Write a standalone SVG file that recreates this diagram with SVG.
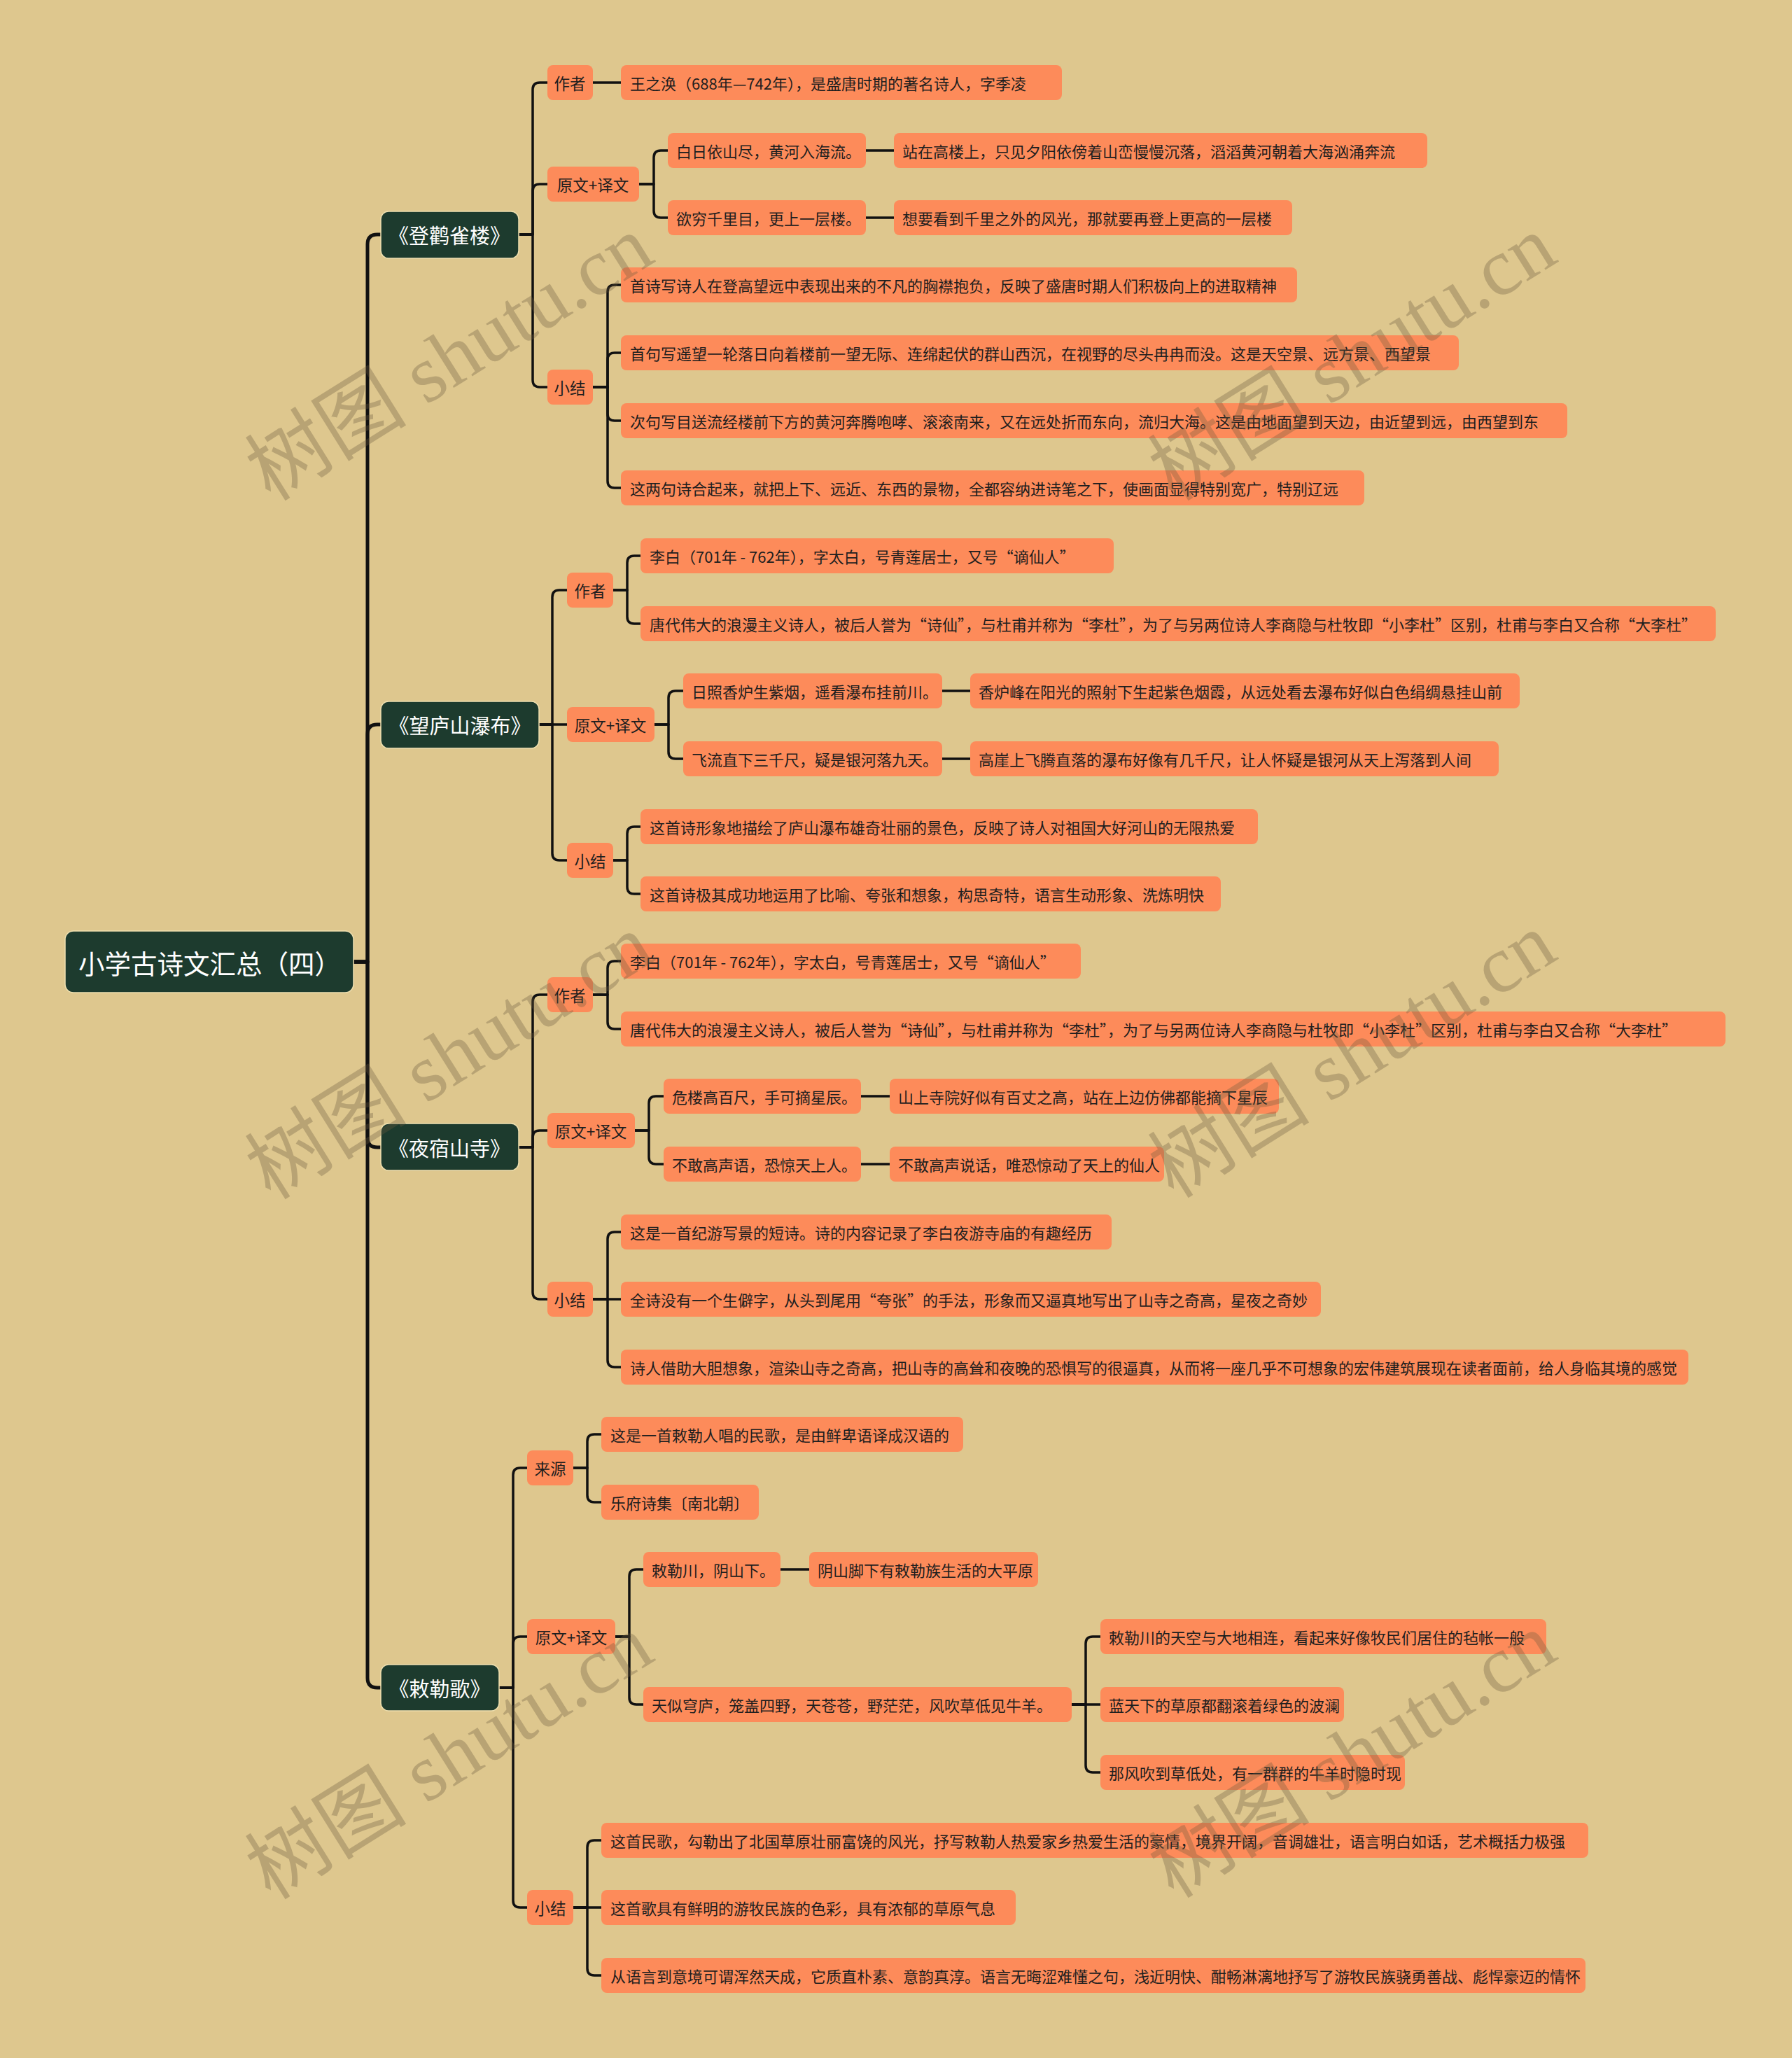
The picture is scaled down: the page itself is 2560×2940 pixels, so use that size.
<svg xmlns="http://www.w3.org/2000/svg" width="2560" height="2940" viewBox="0 0 2560 2940">
<style>
.bg{fill:#dec78e}
.m{fill:#1d3b2e;stroke:#efe0b0;stroke-width:1.5}
.n{fill:#fd8b5a}
.mt{font-family:"Noto Sans CJK SC",sans-serif;font-size:29px;fill:#ffffff;text-anchor:middle;dominant-baseline:central}
.rt{font-family:"Noto Sans CJK SC",sans-serif;font-size:37.5px;fill:#ffffff;dominant-baseline:central}
.t{font-family:"Noto Sans CJK SC",sans-serif;font-size:22px;fill:#1e1e1e;dominant-baseline:central}
.lt{font-family:"Noto Sans CJK SC",sans-serif;font-size:22.5px;fill:#1e1e1e;text-anchor:middle;dominant-baseline:central}
.c{fill:none;stroke:#111111;stroke-width:3.5;stroke-linecap:round;stroke-linejoin:round}
.ct{fill:none;stroke:#111111;stroke-width:5;stroke-linecap:round;stroke-linejoin:round}
.wm{font-family:"Liberation Serif","Noto Sans CJK SC",serif;font-size:116px;fill:#6b5b3e;opacity:0.32;text-anchor:middle;dominant-baseline:central}
</style>
<rect class="bg" x="0" y="0" width="2560" height="2940"/>

<g id="connectors">
<path class="ct" d="M505 1374 H525 V349 Q525 335 539 335 H544"/>
<path class="ct" d="M505 1374 H525 V1049 Q525 1035 539 1035 H544"/>
<path class="ct" d="M505 1374 H525 V1625 Q525 1639 539 1639 H544"/>
<path class="ct" d="M505 1374 H525 V2397 Q525 2411 539 2411 H544"/>

<path class="c" d="M741 335 H761 V128 Q761 118 771 118 H782"/>
<path class="c" d="M741 335 H761 V273 Q761 263 771 263 H782"/>
<path class="c" d="M741 335 H761 V543 Q761 553 771 553 H782"/>
<path class="c" d="M847 118 H887"/>
<path class="c" d="M913 263 H934 V225 Q934 215 944 215 H954"/>
<path class="c" d="M913 263 H934 V301 Q934 311 944 311 H954"/>
<path class="c" d="M1237 215 H1277"/>
<path class="c" d="M1237 311 H1277"/>
<path class="c" d="M847 553 H868 V417 Q868 407 878 407 H887"/>
<path class="c" d="M847 553 H868 V514 Q868 504 878 504 H887"/>
<path class="c" d="M847 553 H868 V591 Q868 601 878 601 H887"/>
<path class="c" d="M847 553 H868 V687 Q868 697 878 697 H887"/>

<path class="c" d="M770 1035 H789 V853 Q789 843 799 843 H810"/>
<path class="c" d="M770 1035 H810"/>
<path class="c" d="M770 1035 H789 V1219 Q789 1229 799 1229 H810"/>
<path class="c" d="M876 843 H896 V804 Q896 794 906 794 H915"/>
<path class="c" d="M876 843 H896 V881 Q896 891 906 891 H915"/>
<path class="c" d="M935 1035 H955 V997 Q955 987 965 987 H976"/>
<path class="c" d="M935 1035 H955 V1074 Q955 1084 965 1084 H976"/>
<path class="c" d="M1346 987 H1386"/>
<path class="c" d="M1346 1084 H1386"/>
<path class="c" d="M876 1229 H896 V1191 Q896 1181 906 1181 H915"/>
<path class="c" d="M876 1229 H896 V1267 Q896 1277 906 1277 H915"/>

<path class="c" d="M741 1639 H761 V1431 Q761 1421 771 1421 H782"/>
<path class="c" d="M741 1639 H761 V1625 Q761 1615 771 1615 H782"/>
<path class="c" d="M741 1639 H761 V1846 Q761 1856 771 1856 H782"/>
<path class="c" d="M847 1421 H868 V1383 Q868 1373 878 1373 H887"/>
<path class="c" d="M847 1421 H868 V1460 Q868 1470 878 1470 H887"/>
<path class="c" d="M907 1615 H927 V1576 Q927 1566 937 1566 H948"/>
<path class="c" d="M907 1615 H927 V1653 Q927 1663 937 1663 H948"/>
<path class="c" d="M1230 1566 H1271"/>
<path class="c" d="M1230 1663 H1271"/>
<path class="c" d="M847 1856 H868 V1770 Q868 1760 878 1760 H887"/>
<path class="c" d="M847 1856 H887"/>
<path class="c" d="M847 1856 H868 V1943 Q868 1953 878 1953 H887"/>

<path class="c" d="M713 2411 H733 V2107 Q733 2097 743 2097 H753"/>
<path class="c" d="M713 2411 H733 V2348 Q733 2338 743 2338 H753"/>
<path class="c" d="M713 2411 H733 V2715 Q733 2725 743 2725 H753"/>
<path class="c" d="M819 2097 H839 V2059 Q839 2049 849 2049 H859"/>
<path class="c" d="M819 2097 H839 V2136 Q839 2146 849 2146 H859"/>
<path class="c" d="M879 2338 H899 V2252 Q899 2242 909 2242 H919"/>
<path class="c" d="M879 2338 H899 V2425 Q899 2435 909 2435 H919"/>
<path class="c" d="M1115 2242 H1156"/>
<path class="c" d="M1531 2435 H1551 V2348 Q1551 2338 1561 2338 H1572"/>
<path class="c" d="M1531 2435 H1572"/>
<path class="c" d="M1531 2435 H1551 V2522 Q1551 2532 1561 2532 H1572"/>
<path class="c" d="M819 2725 H839 V2639 Q839 2629 849 2629 H859"/>
<path class="c" d="M819 2725 H859"/>
<path class="c" d="M819 2725 H839 V2812 Q839 2822 849 2822 H859"/>
</g>

<g id="root"><rect class="m" x="93" y="1330" width="412" height="88" rx="12"/><text class="rt" x="112" y="1374">小学古诗文汇总（四）</text></g>

<g id="s1"><rect class="m" x="544" y="302" width="197" height="67" rx="11"/><text class="mt" x="642" y="335">《登鹳雀楼》</text></g>
<g id="s1-author"><rect class="n" x="782" y="93" width="65" height="50" rx="8"/><text class="lt" x="814" y="118">作者</text></g>
<g id="s1-author-1"><rect class="n" x="887" y="93" width="630" height="50" rx="8"/><text class="t" x="900" y="118">王之涣（688年—742年），是盛唐时期的著名诗人，字季凌</text></g>
<g id="s1-text"><rect class="n" x="782" y="238" width="131" height="50" rx="8"/><text class="lt" x="847" y="263">原文+译文</text></g>
<g id="s1-text-1"><rect class="n" x="954" y="190" width="283" height="50" rx="8"/><text class="t" x="966" y="215">白日依山尽，黄河入海流。</text></g>
<g id="s1-text-1t"><rect class="n" x="1277" y="190" width="762" height="50" rx="8"/><text class="t" x="1289" y="215">站在高楼上，只见夕阳依傍着山峦慢慢沉落，滔滔黄河朝着大海汹涌奔流</text></g>
<g id="s1-text-2"><rect class="n" x="954" y="286" width="283" height="50" rx="8"/><text class="t" x="966" y="311">欲穷千里目，更上一层楼。</text></g>
<g id="s1-text-2t"><rect class="n" x="1277" y="286" width="569" height="50" rx="8"/><text class="t" x="1289" y="311">想要看到千里之外的风光，那就要再登上更高的一层楼</text></g>
<g id="s1-sum"><rect class="n" x="782" y="528" width="65" height="50" rx="8"/><text class="lt" x="814" y="553">小结</text></g>
<g id="s1-sum-1"><rect class="n" x="887" y="382" width="966" height="50" rx="8"/><text class="t" x="900" y="407">首诗写诗人在登高望远中表现出来的不凡的胸襟抱负，反映了盛唐时期人们积极向上的进取精神</text></g>
<g id="s1-sum-2"><rect class="n" x="887" y="479" width="1197" height="50" rx="8"/><text class="t" x="900" y="504">首句写遥望一轮落日向着楼前一望无际、连绵起伏的群山西沉，在视野的尽头冉冉而没。这是天空景、远方景、西望景</text></g>
<g id="s1-sum-3"><rect class="n" x="887" y="576" width="1352" height="50" rx="8"/><text class="t" x="900" y="601">次句写目送流经楼前下方的黄河奔腾咆哮、滚滚南来，又在远处折而东向，流归大海。这是由地面望到天边，由近望到远，由西望到东</text></g>
<g id="s1-sum-4"><rect class="n" x="887" y="672" width="1062" height="50" rx="8"/><text class="t" x="900" y="697">这两句诗合起来，就把上下、远近、东西的景物，全都容纳进诗笔之下，使画面显得特别宽广，特别辽远</text></g>

<g id="s2"><rect class="m" x="544" y="1002" width="226" height="67" rx="11"/><text class="mt" x="657" y="1035">《望庐山瀑布》</text></g>
<g id="s2-author"><rect class="n" x="810" y="818" width="66" height="50" rx="8"/><text class="lt" x="843" y="843">作者</text></g>
<g id="s2-author-1"><rect class="n" x="915" y="769" width="676" height="50" rx="8"/><text class="t" x="928" y="794">李白（701年 - 762年），字太白，号青莲居士，又号“谪仙人”</text></g>
<g id="s2-author-2"><rect class="n" x="915" y="866" width="1536" height="50" rx="8"/><text class="t" x="928" y="891">唐代伟大的浪漫主义诗人，被后人誉为“诗仙”，与杜甫并称为“李杜”，为了与另两位诗人李商隐与杜牧即“小李杜”区别，杜甫与李白又合称“大李杜”</text></g>
<g id="s2-text"><rect class="n" x="810" y="1010" width="125" height="50" rx="8"/><text class="lt" x="872" y="1035">原文+译文</text></g>
<g id="s2-text-1"><rect class="n" x="976" y="962" width="370" height="50" rx="8"/><text class="t" x="988" y="987">日照香炉生紫烟，遥看瀑布挂前川。</text></g>
<g id="s2-text-1t"><rect class="n" x="1386" y="962" width="785" height="50" rx="8"/><text class="t" x="1398" y="987">香炉峰在阳光的照射下生起紫色烟霞，从远处看去瀑布好似白色绢绸悬挂山前</text></g>
<g id="s2-text-2"><rect class="n" x="976" y="1059" width="370" height="50" rx="8"/><text class="t" x="988" y="1084">飞流直下三千尺，疑是银河落九天。</text></g>
<g id="s2-text-2t"><rect class="n" x="1386" y="1059" width="755" height="50" rx="8"/><text class="t" x="1398" y="1084">高崖上飞腾直落的瀑布好像有几千尺，让人怀疑是银河从天上泻落到人间</text></g>
<g id="s2-sum"><rect class="n" x="810" y="1204" width="66" height="50" rx="8"/><text class="lt" x="843" y="1229">小结</text></g>
<g id="s2-sum-1"><rect class="n" x="915" y="1156" width="882" height="50" rx="8"/><text class="t" x="928" y="1181">这首诗形象地描绘了庐山瀑布雄奇壮丽的景色，反映了诗人对祖国大好河山的无限热爱</text></g>
<g id="s2-sum-2"><rect class="n" x="915" y="1252" width="829" height="50" rx="8"/><text class="t" x="928" y="1277">这首诗极其成功地运用了比喻、夸张和想象，构思奇特，语言生动形象、洗炼明快</text></g>

<g id="s3"><rect class="m" x="544" y="1605" width="197" height="67" rx="11"/><text class="mt" x="642" y="1639">《夜宿山寺》</text></g>
<g id="s3-author"><rect class="n" x="782" y="1396" width="65" height="50" rx="8"/><text class="lt" x="814" y="1421">作者</text></g>
<g id="s3-author-1"><rect class="n" x="887" y="1348" width="657" height="50" rx="8"/><text class="t" x="900" y="1373">李白（701年 - 762年），字太白，号青莲居士，又号“谪仙人”</text></g>
<g id="s3-author-2"><rect class="n" x="887" y="1445" width="1578" height="50" rx="8"/><text class="t" x="900" y="1470">唐代伟大的浪漫主义诗人，被后人誉为“诗仙”，与杜甫并称为“李杜”，为了与另两位诗人李商隐与杜牧即“小李杜”区别，杜甫与李白又合称“大李杜”</text></g>
<g id="s3-text"><rect class="n" x="782" y="1590" width="125" height="50" rx="8"/><text class="lt" x="844" y="1615">原文+译文</text></g>
<g id="s3-text-1"><rect class="n" x="948" y="1541" width="282" height="50" rx="8"/><text class="t" x="960" y="1566">危楼高百尺，手可摘星辰。</text></g>
<g id="s3-text-1t"><rect class="n" x="1271" y="1541" width="556" height="50" rx="8"/><text class="t" x="1283" y="1566">山上寺院好似有百丈之高，站在上边仿佛都能摘下星辰</text></g>
<g id="s3-text-2"><rect class="n" x="948" y="1638" width="282" height="50" rx="8"/><text class="t" x="960" y="1663">不敢高声语，恐惊天上人。</text></g>
<g id="s3-text-2t"><rect class="n" x="1271" y="1638" width="392" height="50" rx="8"/><text class="t" x="1283" y="1663">不敢高声说话，唯恐惊动了天上的仙人</text></g>
<g id="s3-sum"><rect class="n" x="782" y="1831" width="65" height="50" rx="8"/><text class="lt" x="814" y="1856">小结</text></g>
<g id="s3-sum-1"><rect class="n" x="887" y="1735" width="701" height="50" rx="8"/><text class="t" x="900" y="1760">这是一首纪游写景的短诗。诗的内容记录了李白夜游寺庙的有趣经历</text></g>
<g id="s3-sum-2"><rect class="n" x="887" y="1831" width="1000" height="50" rx="8"/><text class="t" x="900" y="1856">全诗没有一个生僻字，从头到尾用“夸张”的手法，形象而又逼真地写出了山寺之奇高，星夜之奇妙</text></g>
<g id="s3-sum-3"><rect class="n" x="887" y="1928" width="1525" height="50" rx="8"/><text class="t" x="900" y="1953">诗人借助大胆想象，渲染山寺之奇高，把山寺的高耸和夜晚的恐惧写的很逼真，从而将一座几乎不可想象的宏伟建筑展现在读者面前，给人身临其境的感觉</text></g>

<g id="s4"><rect class="m" x="544" y="2378" width="169" height="66" rx="11"/><text class="mt" x="628" y="2411">《敕勒歌》</text></g>
<g id="s4-src"><rect class="n" x="753" y="2072" width="66" height="50" rx="8"/><text class="lt" x="786" y="2097">来源</text></g>
<g id="s4-src-1"><rect class="n" x="859" y="2024" width="517" height="50" rx="8"/><text class="t" x="872" y="2049">这是一首敕勒人唱的民歌，是由鲜卑语译成汉语的</text></g>
<g id="s4-src-2"><rect class="n" x="859" y="2121" width="225" height="50" rx="8"/><text class="t" x="872" y="2146">乐府诗集〔南北朝〕</text></g>
<g id="s4-text"><rect class="n" x="753" y="2313" width="126" height="50" rx="8"/><text class="lt" x="816" y="2338">原文+译文</text></g>
<g id="s4-text-1"><rect class="n" x="919" y="2217" width="196" height="50" rx="8"/><text class="t" x="931" y="2242">敕勒川，阴山下。</text></g>
<g id="s4-text-1t"><rect class="n" x="1156" y="2217" width="327" height="50" rx="8"/><text class="t" x="1168" y="2242">阴山脚下有敕勒族生活的大平原</text></g>
<g id="s4-text-2"><rect class="n" x="919" y="2410" width="612" height="50" rx="8"/><text class="t" x="931" y="2435">天似穹庐，笼盖四野，天苍苍，野茫茫，风吹草低见牛羊。</text></g>
<g id="s4-text-2a"><rect class="n" x="1572" y="2313" width="637" height="50" rx="8"/><text class="t" x="1584" y="2338">敕勒川的天空与大地相连，看起来好像牧民们居住的毡帐一般</text></g>
<g id="s4-text-2b"><rect class="n" x="1572" y="2410" width="348" height="50" rx="8"/><text class="t" x="1584" y="2435">蓝天下的草原都翻滚着绿色的波澜</text></g>
<g id="s4-text-2c"><rect class="n" x="1572" y="2507" width="435" height="50" rx="8"/><text class="t" x="1584" y="2532">那风吹到草低处，有一群群的牛羊时隐时现</text></g>
<g id="s4-sum"><rect class="n" x="753" y="2700" width="66" height="50" rx="8"/><text class="lt" x="786" y="2725">小结</text></g>
<g id="s4-sum-1"><rect class="n" x="859" y="2604" width="1410" height="50" rx="8"/><text class="t" x="872" y="2629">这首民歌，勾勒出了北国草原壮丽富饶的风光，抒写敕勒人热爱家乡热爱生活的豪情，境界开阔，音调雄壮，语言明白如话，艺术概括力极强</text></g>
<g id="s4-sum-2"><rect class="n" x="859" y="2700" width="592" height="50" rx="8"/><text class="t" x="872" y="2725">这首歌具有鲜明的游牧民族的色彩，具有浓郁的草原气息</text></g>
<g id="s4-sum-3"><rect class="n" x="859" y="2797" width="1406" height="50" rx="8"/><text class="t" x="872" y="2822">从语言到意境可谓浑然天成，它质直朴素、意韵真淳。语言无晦涩难懂之句，浅近明快、酣畅淋漓地抒写了游牧民族骁勇善战、彪悍豪迈的情怀</text></g>

<g id="watermark">
<text class="wm" x="642" y="512" transform="rotate(-32 642 512)">树图 shutu.cn</text>
<text class="wm" x="1932" y="512" transform="rotate(-32 1932 512)">树图 shutu.cn</text>
<text class="wm" x="642" y="1510" transform="rotate(-32 642 1510)">树图 shutu.cn</text>
<text class="wm" x="1932" y="1508" transform="rotate(-32 1932 1508)">树图 shutu.cn</text>
<text class="wm" x="642" y="2510" transform="rotate(-32 642 2510)">树图 shutu.cn</text>
<text class="wm" x="1932" y="2508" transform="rotate(-32 1932 2508)">树图 shutu.cn</text>
</g>
</svg>
